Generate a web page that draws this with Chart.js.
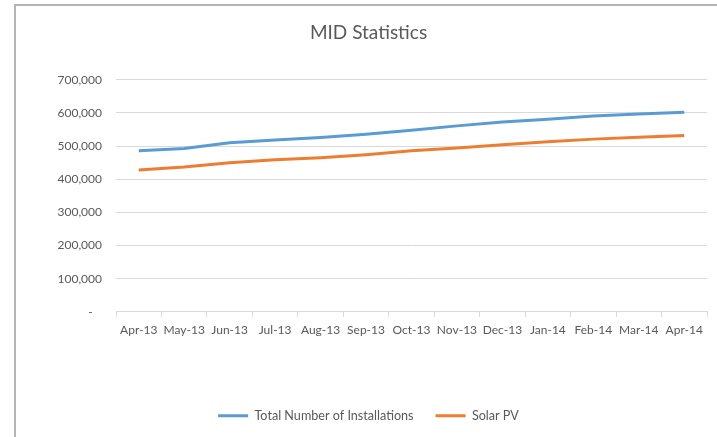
<!DOCTYPE html>
<html lang="en">
<head>
    <meta charset="UTF-8">
    <title>MID Statistics</title>
    <script src="https://cdn.jsdelivr.net/npm/chart.js"></script>
    <style>
        body {
            margin: 0;
            background-color: #fff;
            overflow: hidden;
        }
        .frame {
            position: absolute;
            left: 14px;
            top: 4px;
            width: 703px;
            height: 450px;
            border-left: 2px solid #b4b4b4;
            border-top: 2px solid #b4b4b4;
        }
        .chart-box {
            position: relative;
            width: 703px;
            height: 426px;
        }
    </style>
</head>
<body>
    <div class="frame">
        <div class="chart-box">
            <canvas id="midChart"></canvas>
        </div>
    </div>

    <script>
        // Monthly figures
        const months = ['Apr-13', 'May-13', 'Jun-13', 'Jul-13', 'Aug-13', 'Sep-13', 'Oct-13',
                        'Nov-13', 'Dec-13', 'Jan-14', 'Feb-14', 'Mar-14', 'Apr-14'];
        const totalInstallations = [486000, 493000, 510000, 518000, 526000, 536000, 548000,
                                    561000, 573000, 581000, 591000, 597000, 602000];
        const solarPV = [428000, 437000, 450000, 459000, 465000, 474000, 486000,
                         494000, 504000, 513000, 521000, 527000, 532000];

        const textColor = '#595959';
        const gridColor = '#d9d9d9';
        const fontFamily = 'Lato, "Open Sans", sans-serif';

        new Chart(document.getElementById('midChart'), {
            type: 'line',
            data: {
                labels: months,
                datasets: [
                    {
                        label: 'Total Number of Installations',
                        data: totalInstallations,
                        borderColor: '#5b9bd5',
                        backgroundColor: '#5b9bd5',
                        borderWidth: 3,
                        pointRadius: 0,
                        tension: 0
                    },
                    {
                        label: 'Solar PV',
                        data: solarPV,
                        borderColor: '#ed7d31',
                        backgroundColor: '#ed7d31',
                        borderWidth: 3,
                        pointRadius: 0,
                        tension: 0
                    }
                ]
            },
            options: {
                responsive: true,
                maintainAspectRatio: false,
                animation: false,
                layout: {
                    padding: { left: 14, right: 12, top: 0, bottom: 0 }
                },
                plugins: {
                    title: {
                        display: true,
                        text: 'MID Statistics',
                        color: textColor,
                        font: { family: fontFamily, size: 19, weight: 'normal' },
                        padding: { top: 15, bottom: 36 }
                    },
                    legend: {
                        position: 'bottom',
                        labels: {
                            usePointStyle: true,
                            pointStyle: 'line',
                            pointStyleWidth: 30,
                            padding: 22,
                            color: textColor,
                            font: { family: fontFamily, size: 12.6 }
                        }
                    },
                    tooltip: { enabled: false }
                },
                scales: {
                    x: {
                        offset: true,
                        grid: {
                            offset: true,
                            drawOnChartArea: false,
                            drawTicks: true,
                            tickLength: 5,
                            color: gridColor
                        },
                        border: { display: true, color: gridColor },
                        ticks: {
                            color: textColor,
                            padding: 6,
                            maxRotation: 0,
                            autoSkip: false,
                            font: { family: fontFamily, size: 12 }
                        },
                        afterFit: scale => { scale.height = 75.6; }
                    },
                    y: {
                        min: 0,
                        max: 700000,
                        grid: {
                            color: gridColor,
                            drawTicks: false
                        },
                        border: { display: false },
                        ticks: {
                            stepSize: 100000,
                            padding: 14,
                            color: textColor,
                            font: { family: fontFamily, size: 12 },
                            callback: value => value === 0 ? '-   ' : value.toLocaleString('en-US')
                        },
                        afterFit: scale => { scale.width = 86; }
                    }
                }
            }
        });
    </script>
</body>
</html>
